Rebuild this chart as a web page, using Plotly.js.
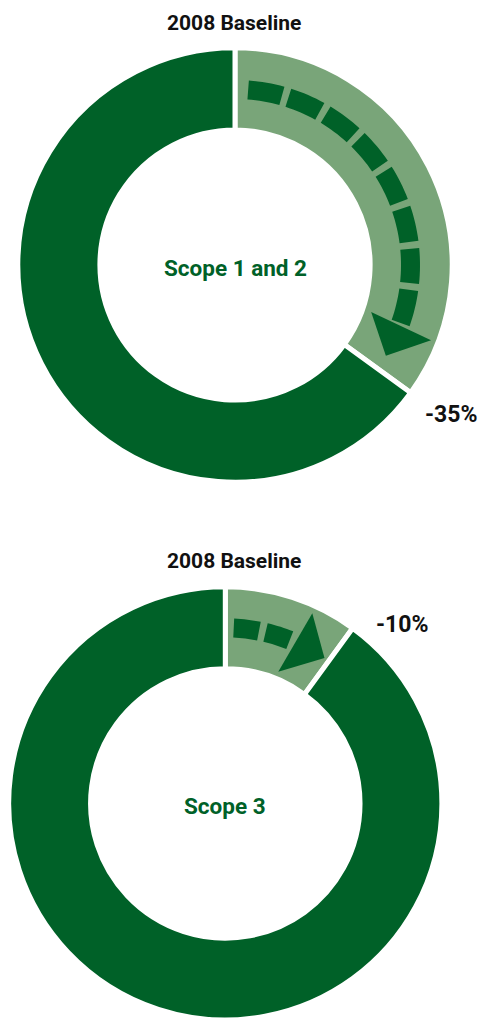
<!DOCTYPE html>
<html>
<head>
<meta charset="utf-8">
<script src="https://cdn.plot.ly/plotly-3.0.1.min.js"></script>
<style>
html,body{margin:0;padding:0;background:#fff;}
#chart{width:482px;height:1020px;}
</style>
</head>
<body>
<div id="chart"></div>
<script>
// ---- data ----
const CHART_TITLES = ['2008 Baseline', '2008 Baseline'];
const CENTER_LABELS = ['Scope 1 and 2', 'Scope 3'];
const SEGMENT_NAMES = ['Reduction target', 'Remaining emissions'];
const SCOPE12_VALUES = [35, 65];
const SCOPE3_VALUES = [10, 90];

// ---- style / layout ----
const W = 482, H = 1020;
const DARK = '#006128';
const LIGHT = '#79a579';
const FONT = 'Roboto, "Open Sans", sans-serif';

const toX = px => px / W;
const toY = py => 1 - py / H;

const charts = [
  {
    values: SCOPE12_VALUES,
    title: CHART_TITLES[0], center: CENTER_LABELS[0],
    domain: {x: [17.8 / W, 452.2 / W], y: [toY(482.2), toY(47.8)]},
    titlePos: [234, 23], centerDy: 3, pctPos: [451, 414],
    dash: {first: 4.3, len: 11.2, step: 13.4, count: 8, r0: 166, r1: 185},
    arrow: [[144, -17], [210, -15], [176, -5]]
  },
  {
    values: SCOPE3_VALUES,
    title: CHART_TITLES[1], center: CENTER_LABELS[1],
    domain: {x: [0, 450.6 / W], y: [0, toY(586.8)]},
    titlePos: [234, 561], centerDy: 3, pctPos: [402, 624],
    dash: {first: 2.75, len: 8.3, step: 10.5, count: 2, r0: 166, r1: 185},
    arrow: [[142, -14.1], [209, -11.4], [176, -1.7]]
  }
];

const HOLE = 0.622;
const traces = [];
const shapes = [];
const annotations = [];

function pt(cx, cy, r, deg) {
  const a = deg * Math.PI / 180;
  return [cx + r * Math.sin(a), cy - r * Math.cos(a)];
}
function P(p) { return toX(p[0]).toFixed(5) + ',' + toY(p[1]).toFixed(5); }

charts.forEach(c => {
  traces.push({
    type: 'pie',
    values: c.values,
    labels: SEGMENT_NAMES,
    sort: false,
    direction: 'clockwise',
    rotation: 0,
    hole: HOLE,
    textinfo: 'none',
    hoverinfo: 'label+value',
    marker: {colors: [LIGHT, DARK], line: {color: '#ffffff', width: 5}},
    domain: c.domain,
    showlegend: false
  });

  const wpx = (c.domain.x[1] - c.domain.x[0]) * W;
  const hpx = (c.domain.y[1] - c.domain.y[0]) * H;
  const R = Math.min(wpx, hpx) / 2;
  const cx = (c.domain.x[0] + c.domain.x[1]) / 2 * W;
  const cy = H - (c.domain.y[0] + c.domain.y[1]) / 2 * H;
  const endDeg = c.values[0] / (c.values[0] + c.values[1]) * 360;

  // dashed arc
  for (let i = 0; i < c.dash.count; i++) {
    const a0 = c.dash.first + i * c.dash.step;
    const a1 = a0 + c.dash.len;
    const n = 8;
    let path = '';
    for (let k = 0; k <= n; k++) {
      const p = pt(cx, cy, c.dash.r1, a0 + (a1 - a0) * k / n);
      path += (k === 0 ? 'M' : 'L') + P(p);
    }
    for (let k = n; k >= 0; k--) {
      const p = pt(cx, cy, c.dash.r0, a0 + (a1 - a0) * k / n);
      path += 'L' + P(p);
    }
    path += 'Z';
    shapes.push({type: 'path', xref: 'paper', yref: 'paper', path: path,
      fillcolor: DARK, line: {width: 0}, layer: 'above'});
  }
  // arrow head
  const ap = c.arrow.map(a => pt(cx, cy, a[0], endDeg + a[1]));
  shapes.push({type: 'path', xref: 'paper', yref: 'paper',
    path: 'M' + P(ap[0]) + 'L' + P(ap[1]) + 'L' + P(ap[2]) + 'Z',
    fillcolor: DARK, line: {width: 0}, layer: 'above'});

  annotations.push({
    text: c.title, xref: 'paper', yref: 'paper',
    x: toX(c.titlePos[0]), y: toY(c.titlePos[1]), xanchor: 'center', yanchor: 'middle',
    showarrow: false, font: {family: FONT, size: 21, color: '#111111', weight: 700}
  });
  annotations.push({
    text: c.center, xref: 'paper', yref: 'paper',
    x: toX(cx), y: toY(cy + c.centerDy), xanchor: 'center', yanchor: 'middle',
    showarrow: false, font: {family: FONT, size: 22.5, color: DARK, weight: 700}
  });
  annotations.push({
    text: '-' + c.values[0] + '%', xref: 'paper', yref: 'paper',
    x: toX(c.pctPos[0]), y: toY(c.pctPos[1]), xanchor: 'center', yanchor: 'middle',
    showarrow: false, font: {family: FONT, size: 23, color: '#111111', weight: 700}
  });
});

const layout = {
  width: W, height: H,
  margin: {l: 0, r: 0, t: 0, b: 0},
  paper_bgcolor: '#ffffff',
  plot_bgcolor: '#ffffff',
  showlegend: false,
  shapes: shapes,
  annotations: annotations
};

Plotly.newPlot('chart', traces, layout, {displayModeBar: false, staticPlot: true});
</script>
</body>
</html>
